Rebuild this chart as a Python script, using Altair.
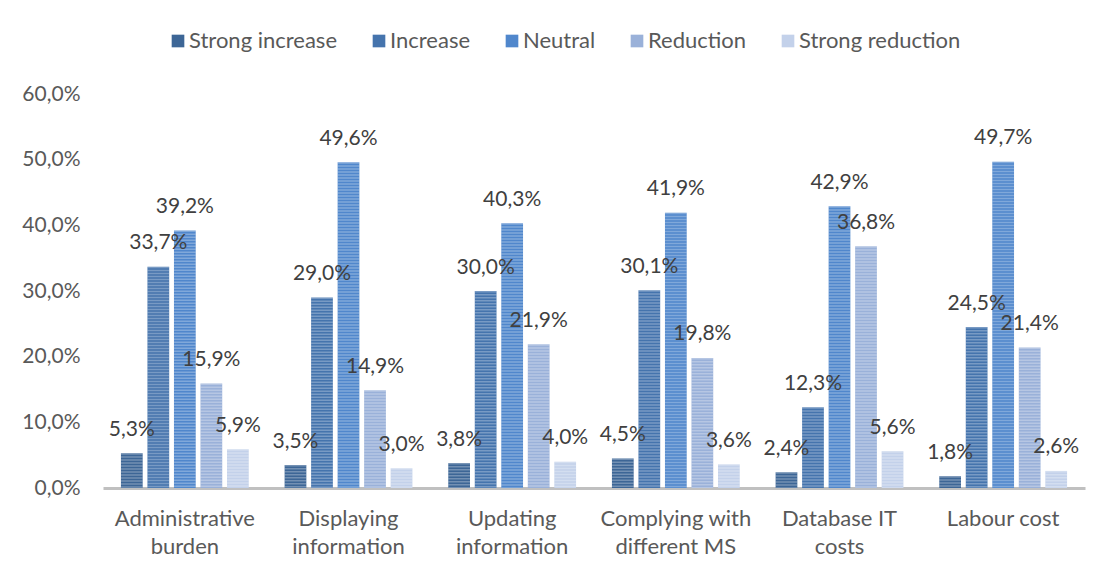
import altair as alt
import pandas as pd

categories = [
    "Administrative\nburden",
    "Displaying\ninformation",
    "Updating\ninformation",
    "Complying with\ndifferent MS",
    "Database IT\ncosts",
    "Labour cost",
]
series = ["Strong increase", "Increase", "Neutral", "Reduction", "Strong reduction"]

strong_increase = [5.3, 3.5, 3.8, 4.5, 2.4, 1.8]
increase = [33.7, 29.0, 30.0, 30.1, 12.3, 24.5]
neutral = [39.2, 49.6, 40.3, 41.9, 42.9, 49.7]
reduction = [15.9, 14.9, 21.9, 19.8, 36.8, 21.4]
strong_reduction = [5.9, 3.0, 4.0, 3.6, 5.6, 2.6]

colors = ["#3d6696", "#4574ad", "#5087cc", "#9ab1d9", "#c3d1ea"]

y_ticks = [0, 10, 20, 30, 40, 50, 60]

values_by_series = [strong_increase, increase, neutral, reduction, strong_reduction]
rows = []
for s, vals in zip(series, values_by_series):
    for c, v in zip(categories, vals):
        rows.append({"category": c, "series": s, "value": v})
df = pd.DataFrame(rows)

FONT = "Lato"

x_enc = alt.X(
    "category:N",
    sort=categories,
    scale=alt.Scale(paddingInner=0.19, paddingOuter=0.095),
    axis=alt.Axis(
        title=None,
        labelAngle=0,
        labelExpr="split(datum.label, '\\n')",
        labelFont=FONT,
        labelFontSize=22,
        labelColor="#595959",
        labelLineHeight=28,
        labelPadding=20,
        labelBaseline="top",
        labelLimit=300,
        ticks=False,
        domain=True,
        domainColor="#c0c0c0",
        domainWidth=3,
        grid=False,
    ),
)
xoff_enc = alt.XOffset(
    "series:N",
    sort=series,
    scale=alt.Scale(paddingInner=0.18, paddingOuter=0.09),
)
y_enc = alt.Y(
    "value:Q",
    scale=alt.Scale(domain=[0, 60], nice=False),
    axis=alt.Axis(
        title=None,
        values=y_ticks,
        labelExpr="replace(format(datum.value, '.1f'), '.', ',') + '%'",
        labelFont=FONT,
        labelFontSize=21,
        labelColor="#595959",
        labelPadding=23,
        ticks=False,
        domain=False,
        grid=False,
    ),
)

base = alt.Chart(df)

bars = base.mark_bar().encode(
    x=x_enc,
    xOffset=xoff_enc,
    y=y_enc,
    color=alt.Color(
        "series:N",
        sort=series,
        scale=alt.Scale(domain=series, range=colors),
        legend=alt.Legend(
            title=None,
            orient="none",
            legendX=64,
            legendY=-64,
            direction="horizontal",
            symbolType="square",
            symbolSize=160,
            symbolStrokeWidth=0,
            labelFont=FONT,
            labelFontSize=22,
            labelColor="#595959",
            labelOffset=0,
            labelLimit=300,
            columnPadding=30,
        ),
    ),
)

stripes = base.mark_rule(
    color="white", opacity=0.28, strokeWidth=21.7, strokeDash=[1.5, 1.5]
).encode(
    x=alt.X("category:N", sort=categories),
    xOffset=alt.XOffset("series:N", sort=series),
    y=alt.Y("value:Q"),
    y2=alt.datum(0),
)

labels = base.transform_calculate(
    lbl="replace(format(datum.value, '.1f'), '.', ',') + '%'"
).mark_text(
    font=FONT, fontSize=21, color="#404040", baseline="middle", dy=-23.5
).encode(
    x=alt.X("category:N", sort=categories),
    xOffset=alt.XOffset("series:N", sort=series),
    y=alt.Y("value:Q"),
    text="lbl:N",
)

chart = (
    alt.layer(bars, stripes, labels)
    .properties(
        width=982,
        height=394,
        autosize=alt.AutoSizeParams(type="none"),
        padding={"left": 95, "top": 86, "right": 20, "bottom": 80},
        background="white",
    )
    .configure_view(stroke=None)
)

chart.save("out.html", embed_options={"renderer": "svg", "actions": False})
